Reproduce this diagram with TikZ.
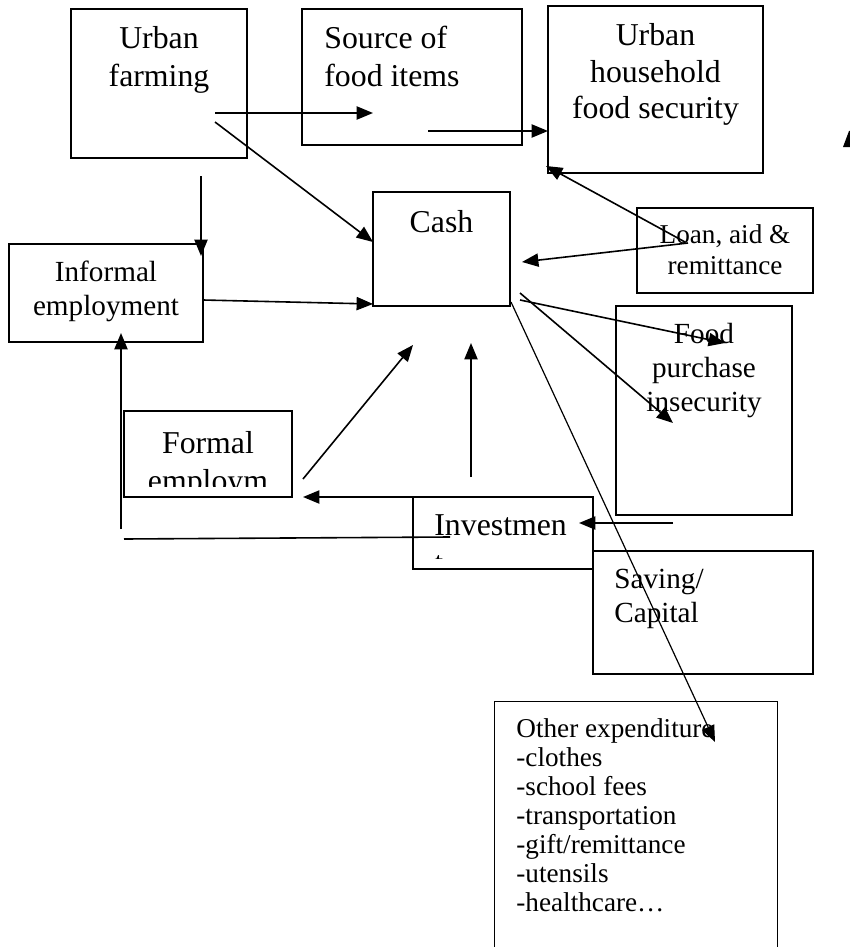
\documentclass[tikz,border=0pt]{standalone}
\usepackage{fontspec}
\setmainfont{Liberation Serif}
\usetikzlibrary{arrows.meta,fit}
\begin{document}
\begin{tikzpicture}[x=0.5pt,y=-0.5pt,
  box/.style={draw, line width=0.8pt, inner sep=0pt},
  hidden/.style={inner sep=0pt},
  arr/.style={-{Triangle[length=8.2pt,width=6.6pt]}, line width=0.8pt},
  thinarr/.style={-{Triangle[length=8.2pt,width=6.6pt]}, line width=0.6pt},
  plain/.style={line width=0.8pt},
  big/.style={anchor=base, inner sep=0pt, font=\fontsize{15.9}{19}\selectfont},
  mid/.style={anchor=base, inner sep=0pt, font=\fontsize{14.6}{17}\selectfont},
  small/.style={anchor=base, inner sep=0pt, font=\fontsize{13.6}{15}\selectfont},
  bigl/.style={big, anchor=base west},
  midl/.style={mid, anchor=base west},
  smalll/.style={small, anchor=base west}]
\useasboundingbox (0,0) rectangle (850,947);

% boxes
\node[box, fit={(71,9) (247,158)}] (farm) {};
\node[box, fit={(302,9) (522,145)}] (source) {};
\node[box, fit={(548,6) (763,173)}] (hfs) {};
\node[box, fit={(373,192) (510,306)}] (cash) {};
\node[box, fit={(637,208) (813,293)}] (loan) {};
\node[box, fit={(9,244) (203,342)}] (informal) {};
\node[box, fit={(124,411) (292,497)}] (formal) {};
\node[box, fit={(413,497) (593,569)}] (invest) {};
\node[box, fit={(616,306) (792,515)}] (food) {};
\node[box, fit={(593,551) (813,674)}] (saving) {};
\node[hidden, fit={(495,702) (777,947)}] (other) {};
\draw[plain] (other.south west) -- (other.north west) -- (other.north east) -- (other.south east);

% texts
\node[big] (t1) at (159,49) {Urban};
\node[big] (t2) at (159,87) {farming};
\node[bigl] (t3) at (324,49) {Source of};
\node[bigl] (t4) at (324,87) {food items};
\node[big] (t5) at (655.5,46) {Urban};
\node[big] (t6) at (655.5,83) {household};
\node[big] (t7) at (655.5,119) {food security};
\node[big] (t8) at (441.5,232) {Cash};
\node[small] (t9) at (725,243) {Loan, aid \&};
\node[small] (t10) at (725,274) {remittance};
\node[mid] (t11) at (106,281) {Informal};
\node[mid] (t12) at (106,315) {employment};
\begin{scope}
  \clip (124,411) rectangle (292,486);
  \node[big] (t13) at (208,453) {Formal};
  \node[big] (t14) at (208,491) {employm};
\end{scope}
\begin{scope}
  \clip (413,497) rectangle (593,558);
  \node[bigl] (t15) at (434,535) {Investmen};
  \node[bigl] (t16) at (434,573) {t};
\end{scope}
\node[mid] (t17) at (704,343) {Food};
\node[mid] (t18) at (704,377) {purchase};
\node[mid] (t19) at (704,411) {insecurity};
\node[midl] (t20) at (614,588) {Saving/};
\node[midl] (t21) at (614,622) {Capital};
\node[smalll] (t22) at (516,737) {Other expenditure};
\node[smalll] (t23) at (516,766) {-clothes};
\node[smalll] (t24) at (516,795) {-school fees};
\node[smalll] (t25) at (516,824) {-transportation};
\node[smalll] (t26) at (516,853) {-gift/remittance};
\node[smalll] (t27) at (516,882) {-utensils};
\node[smalll] (t28) at (516,911) {-healthcare…};

% connector end points
\coordinate (a1s) at (215,113); \coordinate (a1e) at (373,113);
\coordinate (a2s) at (215,122); \coordinate (a2e) at (373,242);
\coordinate (a3s) at (201,176); \coordinate (a3e) at (201,256);
\coordinate (a4s) at (203,300); \coordinate (a4e) at (373,304);
\coordinate (a5s) at (428,131); \coordinate (a5e) at (548,131);
\coordinate (a6s) at (685,242); \coordinate (a6e) at (546,166);
\coordinate (a7s) at (688,243); \coordinate (a7e) at (522,262);
\coordinate (a8s) at (520,300); \coordinate (a8e) at (725,343);
\coordinate (a9s) at (520,293); \coordinate (a9e) at (673,423);
\coordinate (a10s) at (511,302); \coordinate (a10e) at (715,742);
\coordinate (a11s) at (303,479); \coordinate (a11e) at (413,345);
\coordinate (a12s) at (471,477); \coordinate (a12e) at (471,343);
\coordinate (a13s) at (450,497); \coordinate (a13e) at (303,497);
\coordinate (a14s) at (124,539); \coordinate (a14e) at (450,537);
\coordinate (a15s) at (121,529); \coordinate (a15e) at (121,333);
\coordinate (a16s) at (673,523); \coordinate (a16e) at (579,523);

% connectors
\draw[arr] (a1s) -- (a1e);
\draw[arr] (a2s) -- (a2e);
\draw[arr] (a3s) -- (a3e);
\draw[arr] (a4s) -- (a4e);
\draw[arr] (a5s) -- (a5e);
\draw[arr] (a6s) -- (a6e);
\draw[arr] (a7s) -- (a7e);
\draw[arr] (a8s) -- (a8e);
\draw[arr] (a9s) -- (a9e);
\draw[thinarr] (a10s) -- (a10e);
\draw[arr] (a11s) -- (a11e);
\draw[arr] (a12s) -- (a12e);
\draw[arr] (a13s) -- (a13e);
\draw[plain] (a14s) -- (a14e);
\draw[arr] (a15s) -- (a15e);
\draw[arr] (a16s) -- (a16e);

% cut-off arrowhead at the right edge
\fill (843,147) -- (849,131) -- (850,131) -- (850,147) -- cycle;
\end{tikzpicture}
\end{document}
